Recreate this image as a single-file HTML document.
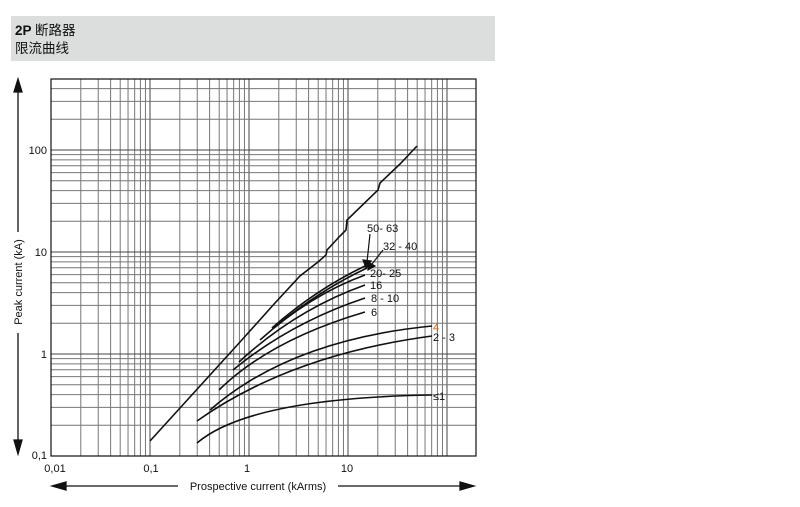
<!DOCTYPE html>
<html><head><meta charset="utf-8"><style>
body{margin:0;background:#fff;width:800px;height:502px;overflow:hidden}
text{font-family:"Liberation Sans","Noto Sans CJK SC",sans-serif}
</style></head><body>
<svg width="800" height="502" viewBox="0 0 800 502" xmlns="http://www.w3.org/2000/svg">
<rect x="11" y="16" width="484" height="45" fill="#dcdddd"/>
<text x="15" y="35" font-size="13.5" fill="#111" font-weight="bold">2P <tspan font-weight="normal">断路器</tspan></text>
<text x="15" y="53" font-size="13.5" fill="#111">限流曲线</text>
<g id="grid" stroke-width="1"></g>
<rect x="51" y="79" width="425" height="377" fill="none" stroke="#111" stroke-width="1.2"/>
<g fill="none" stroke="#111" stroke-width="1.6">
<polyline points="150,441 200,386 240,342 275,303 300,276 318,262 326,255 327,250 340,236 346,230 347,220 378,190 380,183 400,164 417,146"/>
<path d="M272,328 Q315,290 365,266"/>
<path d="M275,327 Q320,290 367,268"/>
<path d="M260,340 Q310,295 365,275"/>
<path d="M239,362 Q295,310 365,285"/>
<path d="M233,370 Q290,323 365,298"/>
<path d="M219,390 Q270,340 365,312"/>
<path d="M210,410 Q290,340 432,326"/>
<path d="M197,421 Q290,355 432,336"/>
<path d="M197,443 Q250,398 432,395"/>
</g>
<g stroke="#111" stroke-width="1.2" fill="#111">
<line x1="370" y1="234" x2="367" y2="262"/><polygon points="363,260 371,261 366,268"/>
<line x1="383" y1="250" x2="372" y2="264"/><polygon points="368,262 375,266 368,270"/>
</g>
<g font-size="11" fill="#111">
<text x="367" y="232">50- 63</text>
<text x="383" y="250">32 - 40</text>
<text x="370" y="277">20- 25</text>
<text x="370" y="289">16</text>
<text x="371" y="302">8 - 10</text>
<text x="371" y="316">6</text>
<text x="433" y="331" fill="#c0601a">4</text>
<text x="433" y="341">2 - 3</text>
<text x="433" y="400">≤1</text>
</g>
<g font-size="11" fill="#111" text-anchor="end">
<text x="47" y="154">100</text><text x="47" y="256">10</text><text x="47" y="358">1</text><text x="47" y="459">0,1</text>
</g>
<g font-size="11" fill="#111" text-anchor="middle">
<text x="55" y="472">0,01</text><text x="151" y="472">0,1</text><text x="247" y="472">1</text><text x="347" y="472">10</text>
</g>
<g stroke="#111" stroke-width="1.3" fill="#111">
<line x1="18" y1="88" x2="18" y2="232"/><line x1="18" y1="333" x2="18" y2="440"/>
<polygon points="14,92 22,92 18,79"/><polygon points="14,440 22,440 18,454"/>
<line x1="62" y1="486" x2="178" y2="486"/><line x1="338" y1="486" x2="462" y2="486"/>
<polygon points="52,486 66,482 66,490"/><polygon points="474,486 460,482 460,490"/>
</g>
<text x="258" y="490" font-size="11" fill="#111" text-anchor="middle">Prospective current (kArms)</text>
<text transform="translate(22,282) rotate(-90)" font-size="11" fill="#111" text-anchor="middle">Peak current  (kA)</text>
</svg>
<script>
var g=document.getElementById('grid'),s='';
function X(v){return 51+99*(Math.log10(v)+2)}
function Y(v){return 456-102*(Math.log10(v)+1)}
for(var d=0.01;d<200;d*=10)for(var k=1;k<10;k++){var v=d*k,x=X(v);if(x>51&&x<476)s+='<line x1="'+x+'" y1="79" x2="'+x+'" y2="456" stroke="'+(k==1?'#444':'#777')+'"/>';}
for(var d=0.1;d<1000;d*=10)for(var k=1;k<10;k++){var v=d*k,y=Y(v);if(y>79&&y<456)s+='<line x1="51" y1="'+y+'" x2="476" y2="'+y+'" stroke="'+(k==1?'#444':'#777')+'"/>';}
g.innerHTML=s;
</script>
</body></html>
